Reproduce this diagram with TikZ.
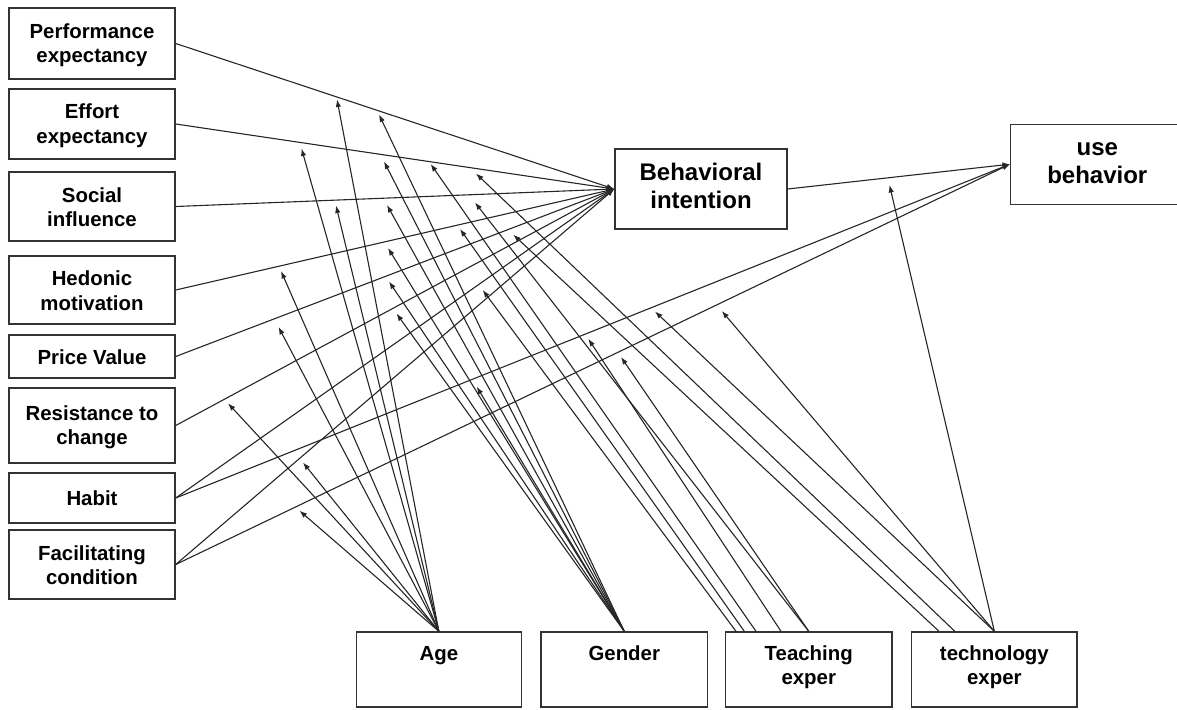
\documentclass[tikz,border=0pt]{standalone}
\usepackage{fontspec}
\setmainfont{Liberation Sans}
\usetikzlibrary{arrows.meta,calc}
\newcommand{\lst}{\rule[-3pt]{0pt}{21.5pt}}
\newcommand{\bst}{\rule[-5.7pt]{0pt}{22pt}}
\begin{document}
\begin{tikzpicture}[x=1pt,y=-1pt,
  box/.style={draw=black!80, line width=1.4pt, inner sep=0pt, align=center,
    font=\bfseries\fontsize{20.4}{24.5}\selectfont},
  bigbox/.style={box, font=\bfseries\fontsize{24}{27.7}\selectfont},
  lbl/.style={inner sep=0pt, align=center, anchor=north, yshift=-10.5pt,
    font=\bfseries\fontsize{20.4}{24.3}\selectfont},
  arr/.style={draw=black!85, line width=1.1pt, -{Latex[length=7.5pt,width=5.5pt]}},
]
\useasboundingbox (0,0) rectangle (1177,709);
% predictor boxes
\node[box, minimum width=166pt, minimum height=71pt] (pe) at (92,43.5) {\lst Performance\\\lst expectancy};
\node[box, minimum width=166pt, minimum height=70pt] (ee) at (92,124) {\lst Effort\\\lst expectancy};
\node[box, minimum width=166pt, minimum height=69pt] (si) at (92,206.5) {\lst Social\\\lst influence};
\node[box, minimum width=166pt, minimum height=68pt] (hm) at (92,290) {\lst Hedonic\\\lst motivation};
\node[box, minimum width=166pt, minimum height=43pt] (pv) at (92,356.5) {\lst Price Value};
\node[box, minimum width=166pt, minimum height=75pt] (rc) at (92,425.5) {\lst Resistance to\\\lst change};
\node[box, minimum width=166pt, minimum height=50pt] (ht) at (92,498) {\lst Habit};
\node[box, minimum width=166pt, minimum height=69pt] (fc) at (92,564.5) {\lst Facilitating\\\lst condition};
% outcome boxes
\node[bigbox, minimum width=172pt, minimum height=80pt] (bi) at (701,189) {\bst Behavioral\\\bst intention};
\node[bigbox, minimum width=173.3pt, minimum height=80pt] (ub) at (1097.3,164.2) {\bst use\\\bst behavior};
% moderator boxes
\node[box, minimum width=165pt, minimum height=75pt, label={[lbl]north:\lst Age}] (age) at (438.85,669.5) {};
\node[box, minimum width=166.5pt, minimum height=75pt, label={[lbl]north:\lst Gender}] (gen) at (624.25,669.5) {};
\node[box, minimum width=166.5pt, minimum height=75pt, label={[lbl]north:\lst Teaching\\\lst exper}] (teach) at (808.75,669.5) {};
\node[box, minimum width=165.3pt, minimum height=75pt, label={[lbl]north:\lst technology\\\lst exper}] (tech) at (994.35,669.5) {};
% main paths
\foreach \n in {pe,ee,si,hm,pv,rc,ht,fc} \draw[arr] (\n.east) -- (bi.west);
\draw[arr] (ht.east) -- (ub.west);
\draw[arr] (fc.east) -- (ub.west);
\draw[arr] (bi.east) -- (ub.west);
% arrow tips of moderating effects
\coordinate (a1) at (337,99.5);
\coordinate (a2) at (301.5,148.5);
\coordinate (a3) at (336,205.5);
\coordinate (a4) at (281,271);
\coordinate (a5) at (278.5,327);
\coordinate (a6) at (228,403.3);
\coordinate (a7) at (303,462.5);
\coordinate (a8) at (299.5,510.7);
\coordinate (g1) at (379,114.5);
\coordinate (g2) at (384,161.5);
\coordinate (g3) at (387,205);
\coordinate (g4) at (388,248);
\coordinate (g5) at (389,281.5);
\coordinate (g6) at (396.5,313.5);
\coordinate (g7) at (476.7,386.7);
\coordinate (e1) at (482.7,290);
\coordinate (e2) at (460,229);
\coordinate (e3) at (430.7,164);
\coordinate (e4) at (588.3,338.8);
\coordinate (e5) at (621,357);
\coordinate (e6) at (475,202.5);
\coordinate (k1) at (513.3,234.7);
\coordinate (k2) at (476,173.5);
\coordinate (k3) at (655,311.5);
\coordinate (k4) at (721.8,311);
\coordinate (k5) at (889.5,185);
% start points on moderator boxes
\coordinate (ts1) at ([xshift=11.2pt]teach.north west);
\coordinate (ts2) at ([xshift=19.5pt]teach.north west);
\coordinate (ts3) at ([xshift=31.2pt]teach.north west);
\coordinate (ts4) at ([xshift=56.2pt]teach.north west);
\coordinate (ks1) at ([xshift=28pt]tech.north west);
\coordinate (ks2) at ([xshift=43.8pt]tech.north west);
% moderating arrows
\foreach \t in {a1,a2,a3,a4,a5,a6,a7,a8} \draw[arr] (age.north) -- (\t);
\foreach \t in {g1,g2,g3,g4,g5,g6,g7} \draw[arr] (gen.north) -- (\t);
\draw[arr] (ts1) -- (e1);
\draw[arr] (ts2) -- (e2);
\draw[arr] (ts3) -- (e3);
\draw[arr] (ts4) -- (e4);
\draw[arr] (teach.north) -- (e5);
\draw[arr] (teach.north) -- (e6);
\draw[arr] (ks1) -- (k1);
\draw[arr] (ks2) -- (k2);
\foreach \t in {k3,k4,k5} \draw[arr] (tech.north) -- (\t);
\end{tikzpicture}
\end{document}
